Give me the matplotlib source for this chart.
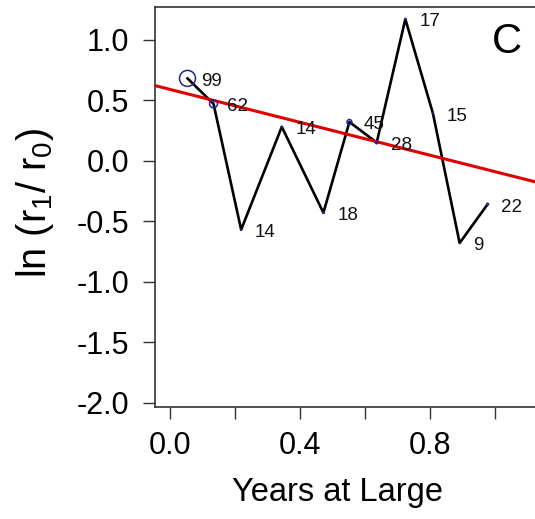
import matplotlib
matplotlib.use('Agg')
import matplotlib.pyplot as plt
from matplotlib.ticker import FixedLocator

# ---- data ----
years = [0.055, 0.135, 0.22, 0.345, 0.473, 0.553, 0.637, 0.725, 0.81, 0.892, 0.978]
ln_ratio = [0.68, 0.47, -0.57, 0.28, -0.43, 0.32, 0.15, 1.17, 0.39, -0.68, -0.36]
n_fish = [99, 62, 14, 14, 18, 45, 28, 17, 15, 9, 22]
fit_intercept = 0.59
fit_slope = -0.68
xtick_labels = [0.0, 0.4, 0.8]
xtick_minor = [0.2, 0.6, 1.0]
ytick_values = [-2.0, -1.5, -1.0, -0.5, 0.0, 0.5, 1.0]
panel_label = 'C'
x_label = 'Years at Large'
y_label = 'ln (r$_1$/ r$_0$)'

plt.rcParams['font.family'] = ['Liberation Sans', 'DejaVu Sans']
plt.rcParams['mathtext.default'] = 'regular'
plt.rcParams['mathtext.fontset'] = 'custom'
plt.rcParams['mathtext.rm'] = 'Liberation Sans'

fig = plt.figure(figsize=(5.35, 5.19), dpi=100)
ax = fig.add_axes([155/535, 112/519, 382/535, 400/519])

ax.plot(years, ln_ratio, color='black', lw=1.9, zorder=2)
ax.axline((0, fit_intercept), slope=fit_slope, color='#e00000', lw=2.2, zorder=3)

sizes = [(2 * 8 * (n / 99) ** 1.5 * 0.72) ** 2 for n in n_fish]
ax.scatter(years, ln_ratio, s=sizes, facecolors='none', edgecolors='#22229a',
           linewidths=1.1, zorder=4)

for x, y, n in zip(years, ln_ratio, n_fish):
    ax.annotate(str(n), (x, y), xytext=(10, -2), textcoords='offset points',
                ha='left', va='center', fontsize=13.5, color='#111111', zorder=5)

ax.text(0.92, 0.9125, panel_label, transform=ax.transAxes, fontsize=30,
        ha='center', va='center')

ax.set_xlim(-0.045, 1.13)
ax.set_ylim(-2.035, 1.27)

ax.xaxis.set_major_locator(FixedLocator(xtick_labels))
ax.xaxis.set_minor_locator(FixedLocator(xtick_minor))
ax.set_xticklabels([f'{v:.1f}' for v in xtick_labels])
ax.set_yticks(ytick_values)
ax.set_yticklabels([f'{v:.1f}' for v in ytick_values])

ax.tick_params(axis='both', which='both', length=8.6, width=1.0, color='#333333',
               labelsize=22)
ax.tick_params(axis='y', pad=10)
ax.tick_params(axis='x', pad=9)
ax.spines['right'].set_visible(False)
for s in ['left', 'top', 'bottom']:
    ax.spines[s].set_linewidth(1.2)
    ax.spines[s].set_color('#333333')

fig.text(337/535, 1 - 493/519, x_label, ha='center', va='center', fontsize=23.5)
fig.text(35/535, 1 - 203/519, y_label, ha='center', va='center', rotation=90,
         fontsize=28.5)

fig.savefig('out.png', dpi=100)
